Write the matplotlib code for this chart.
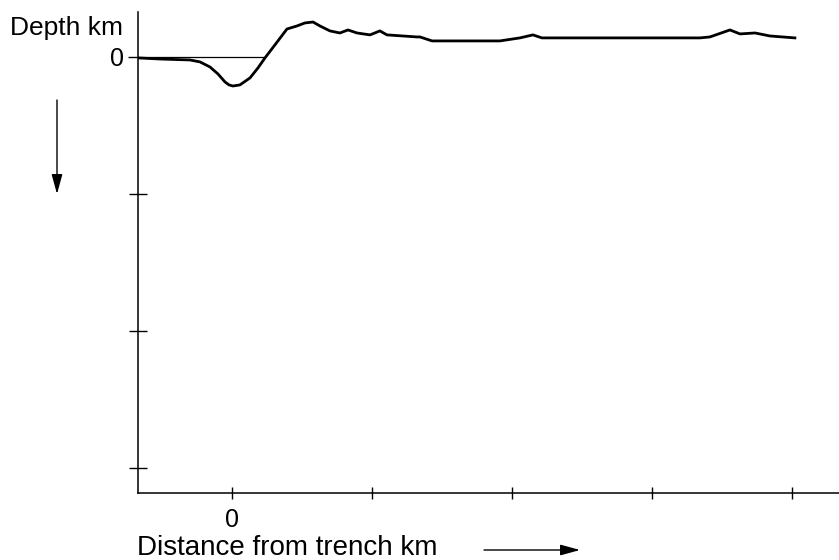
import numpy as np
import matplotlib.pyplot as plt

# profile across the trench (distance in tick units, depth in tick units, up = positive)
dist = [-0.671, -0.514, -0.30, -0.229, -0.157, -0.10, -0.05, -0.021, 0.007, 0.057,
        0.129, 0.186, 0.236, 0.307, 0.393, 0.464, 0.521, 0.579, 0.629, 0.70,
        0.771, 0.829, 0.893, 0.986, 1.057, 1.107, 1.321, 1.343, 1.429, 1.507,
        1.914, 2.057, 2.15, 2.214, 2.629, 3.343, 3.414, 3.557, 3.629, 3.736,
        3.843, 4.021]
depth = [-0.007, -0.015, -0.022, -0.036, -0.073, -0.124, -0.182, -0.204, -0.212, -0.204,
         -0.153, -0.080, -0.007, 0.088, 0.204, 0.226, 0.248, 0.255, 0.226, 0.19,
         0.175, 0.197, 0.175, 0.161, 0.19, 0.161, 0.146, 0.146, 0.117, 0.117,
         0.117, 0.139, 0.161, 0.139, 0.139, 0.139, 0.146, 0.197, 0.168, 0.175,
         0.153, 0.139]
sea_level_end = 0.236
xticks = [0, 1, 2, 3, 4]
xticklabels = ['0', '', '', '', '']
yticks_minor = [-1, -2, -3]

plt.rcParams['font.family'] = ['Liberation Sans', 'DejaVu Sans']

fig = plt.figure(figsize=(8.39, 5.60), dpi=100)
ax = fig.add_axes([138/839, 67/560, 701/839, 481/560])

ax.plot(dist, depth, color='black', lw=2.0, solid_joinstyle='round')
ax.hlines(0, -0.671, sea_level_end, color='black', lw=0.9)

ax.set_xlim(-0.671, 4.336)
ax.set_ylim(-3.182, 0.328)

for s in ['top', 'right']:
    ax.spines[s].set_visible(False)
for s in ['left', 'bottom']:
    ax.spines[s].set_linewidth(1.1)

ax.set_xticks(xticks)
ax.set_xticklabels(xticklabels, fontsize=18)
ax.tick_params(axis='x', direction='inout', length=9, width=1.0, pad=6)

ax.set_yticks([0])
ax.set_yticklabels(['0'], fontsize=18)
ax.set_yticks(yticks_minor, minor=True)
ax.tick_params(axis='y', which='major', direction='out', length=7, width=1.0, pad=3)
ax.tick_params(axis='y', which='minor', direction='inout', length=13, width=1.0)

fig.text(123/839, 1 - 35/560, 'Depth km', ha='right', va='baseline', fontsize=19)
fig.text(137/839, 1 - 555/560, 'Distance from trench km', ha='left', va='baseline', fontsize=20)

arrow = dict(arrowstyle='-|>,head_length=0.8,head_width=0.22', color='black',
             lw=1.0, mutation_scale=15, shrinkA=0, shrinkB=0)
ax.annotate('', xy=(57/839, 1 - 194/560), xytext=(57/839, 1 - 100/560),
            xycoords='figure fraction', textcoords='figure fraction', arrowprops=arrow)
ax.annotate('', xy=(580/839, 1 - 550/560), xytext=(484/839, 1 - 550/560),
            xycoords='figure fraction', textcoords='figure fraction', arrowprops=arrow)

fig.savefig('out.png', dpi=100)
